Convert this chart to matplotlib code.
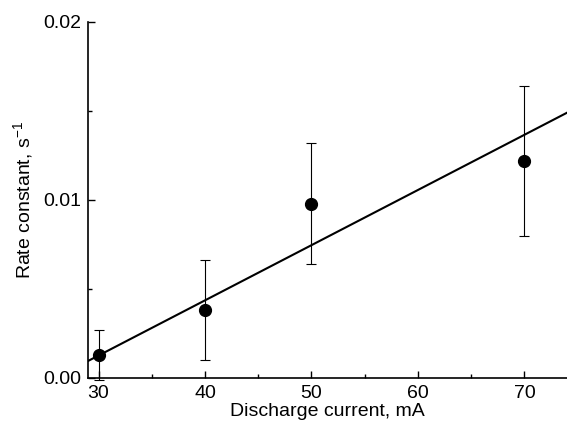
import matplotlib
matplotlib.use("Agg")
import matplotlib.pyplot as plt
from matplotlib.ticker import MultipleLocator, FormatStrFormatter

plt.rcParams['font.family'] = ['Liberation Sans', 'DejaVu Sans']
plt.rcParams['mathtext.default'] = 'regular'

# Datos medidos
corriente = [30, 40, 50, 70]
constante = [0.0013, 0.0038, 0.0098, 0.0122]
error = [0.0014, 0.0028, 0.0034, 0.0042]

# Recta de ajuste (extremos)
ajuste_x = [29, 74]
ajuste_y = [0.00095, 0.0149]

fig = plt.figure(figsize=(5.67, 4.30), dpi=100)
ax = fig.add_axes([0.155, 0.121, 0.845, 0.828])

ax.plot(ajuste_x, ajuste_y, color='black', lw=1.5)
ax.errorbar(corriente, constante, yerr=error, fmt='o', color='black',
            ms=8.5, elinewidth=0.8, capsize=3.5, capthick=0.8, clip_on=False)

ax.set_xlim(29, 74)
ax.set_ylim(0, 0.02)
ax.xaxis.set_major_locator(MultipleLocator(10))
ax.xaxis.set_minor_locator(MultipleLocator(5))
ax.yaxis.set_major_locator(MultipleLocator(0.01))
ax.yaxis.set_minor_locator(MultipleLocator(0.005))
ax.yaxis.set_major_formatter(FormatStrFormatter('%.2f'))

ax.spines['top'].set_visible(False)
ax.spines['right'].set_visible(False)
for s in ('left', 'bottom'):
    ax.spines[s].set_linewidth(1.2)
ax.tick_params(which='both', direction='in', labelsize=14, width=1)
ax.tick_params(which='major', length=5, pad=5)
ax.tick_params(which='minor', length=3)

ax.set_xlabel("Discharge current, mA", fontsize=14, labelpad=1)
ax.set_ylabel("Rate constant, s$^{-1}$", fontsize=14, labelpad=6)

plt.savefig("out.png", dpi=100)
plt.close()
